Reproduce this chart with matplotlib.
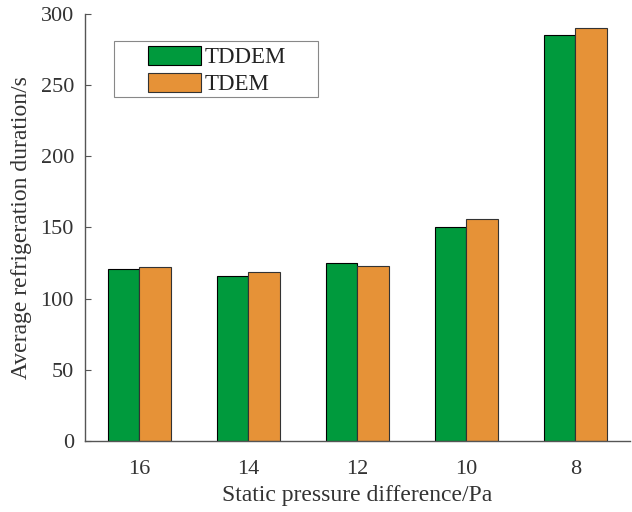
import numpy as np
import matplotlib.pyplot as plt
from matplotlib.patches import Rectangle

plt.rcParams['font.family'] = ['Liberation Serif', 'DejaVu Serif']

# data
categories = ['16', '14', '12', '10', '8']
tddem = [121, 116, 125, 150, 285]
tdem = [122, 119, 123, 156, 290]

green = '#009a3d'
orange = '#e69237'

fig = plt.figure(figsize=(6.32, 5.12), dpi=100)
ax = fig.add_axes([0.1345, 0.1387, 0.862, 0.834])

x = np.arange(1, len(categories) + 1)
w = 0.29
ax.bar(x - w / 2, tddem, w, color=green, edgecolor='black', linewidth=0.8, label='TDDEM')
ax.bar(x + w / 2, tdem, w, color=orange, edgecolor='#333333', linewidth=0.8, label='TDEM')

ax.set_xlim(0.5, 5.5)
ax.set_ylim(0, 300)
ax.set_yticks(np.arange(0, 301, 50))
ax.set_xticks(x)
ax.set_xticklabels(categories)

for s in ['top', 'right']:
    ax.spines[s].set_visible(False)
for s in ['left', 'bottom']:
    ax.spines[s].set_color('#555555')
    ax.spines[s].set_linewidth(1.0)

ax.tick_params(axis='y', direction='in', length=4, labelsize=16, colors='#555555',
               labelcolor='#333333', pad=8)
ax.tick_params(axis='x', length=0, labelsize=16, labelcolor='#333333', pad=14)

ax.set_xlabel('Static pressure difference/Pa', fontsize=17, color='#333333', labelpad=4)
ax.set_ylabel('Average refrigeration duration/s', fontsize=17, color='#333333', labelpad=6)

# legend box drawn separately (MATLAB style wide box)
ax.add_patch(Rectangle((0.0532, 0.8063), 0.3743, 0.1312, transform=ax.transAxes,
                       facecolor='white', edgecolor='#888888', linewidth=0.8, zorder=4))
leg = ax.legend(loc='upper left', bbox_to_anchor=(0.1156, 0.926), fontsize=16.5,
                frameon=False, handlelength=2.3, handleheight=0.9, handletextpad=0.15,
                labelspacing=0.2, borderpad=0, borderaxespad=0)
leg.set_zorder(5)
for t in leg.get_texts():
    t.set_color('#222222')

fig.savefig('out.png', dpi=100)
